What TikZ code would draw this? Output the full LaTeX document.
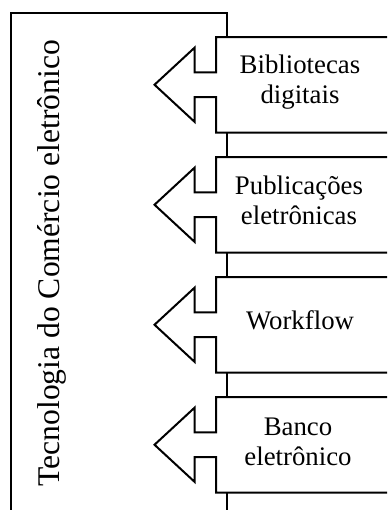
\documentclass[tikz,border=0pt]{standalone}
\usepackage{fontspec}
\setmainfont{Liberation Serif}
\begin{document}
\begin{tikzpicture}[x=0.5pt,y=-0.5pt,
  frameline/.style={line width=0.85pt},
  callout/.style={line width=1pt, fill=white, line join=miter},
  boxtext/.style={align=center, font=\fontsize{13.4}{15}\selectfont, inner sep=0pt},
  sidetext/.style={rotate=90, anchor=base, font=\fontsize{15.8}{18}\selectfont, inner sep=0pt}]
\useasboundingbox (0,0) rectangle (387,510);
\clip (0,0) rectangle (387,510);
% main frame
\draw[frameline] (11,520) -- (11,13) -- (227,13) -- (227,520);
% callouts
\foreach \t in {37,157,277,397}{
  \pgfmathsetmacro{\c}{\t+47.75}
  \pgfmathsetmacro{\b}{\t+95.5}
  \draw[callout] (400,\t) -- (216,\t) -- (216,\c-12.3) -- (194.5,\c-12.3) -- (194.5,\c-37) -- (154.5,\c) -- (194.5,\c+37) -- (194.5,\c+12.3) -- (216,\c+12.3) -- (216,\b) -- (400,\b);
}
\node[boxtext] (t1) at (300,82) {Bibliotecas\\digitais};
\node[boxtext] (t2) at (299,200) {Publicações\\eletrônicas};
\node[boxtext] (t3) at (300,320) {Workflow};
\node[boxtext] (t4) at (298,442) {Banco\\eletrônico};
\node[sidetext] (side) at (60,263.3) {Tecnologia do Comércio eletrônico};
\end{tikzpicture}
\end{document}
